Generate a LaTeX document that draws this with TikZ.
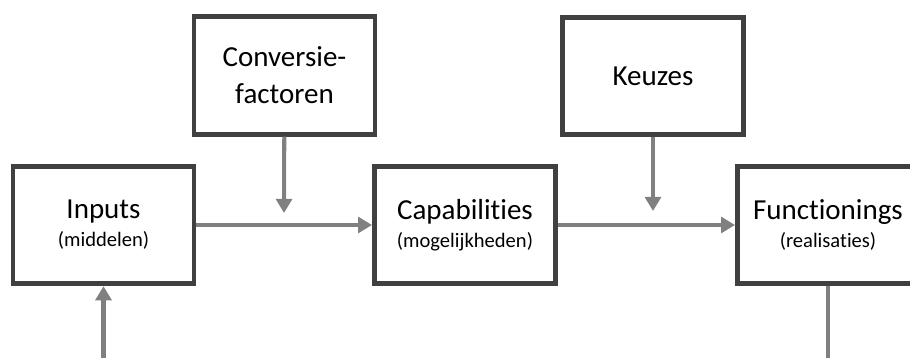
\documentclass[tikz,border=0pt]{standalone}
\usepackage{fontspec}
\setmainfont{Carlito}[Ligatures=NoCommon]
\usetikzlibrary{arrows.meta}
\definecolor{boxgray}{HTML}{404040}
\definecolor{arrowgray}{HTML}{808080}
\newcommand{\bigtxt}{\fontsize{16.5}{21}\selectfont}
\newcommand{\smalltxt}{\fontsize{11.7}{14}\selectfont}

\begin{document}
\begin{tikzpicture}[
  x=0.02cm, y=-0.02cm,
  blok/.style={draw=boxgray, line width=2.8pt, fill=white, minimum width=3.62cm,
    minimum height=2.35cm, align=center, inner sep=0pt, font=\bigtxt},
  pijl/.style={draw=arrowgray, line width=2.3pt, -{Triangle[length=8pt,width=9pt]}},
  lijn/.style={draw=arrowgray, line width=2.3pt}
  ]
	 \useasboundingbox (0,0) rectangle (910,358);
	 \clip (0,0) rectangle (910,358);

	 \node [blok] (inp) at (103.5,225) {Inputs\\[-5pt]{\smalltxt (middelen)}};
	 \node [blok] (cap) at (465,225) {Capabilities\\[-5pt]{\smalltxt (mogelijkheden)}};
	 \node [blok] (fun) at (828,225) {Functionings\\[-5pt]{\smalltxt (realisaties)}};
	 \node [blok] (conv) at (284.5,75.5) {Conversie-\\factoren};
	 \node [blok] (keu) at (653,76) {Keuzes};

	 \coordinate (convend) at (284,213);
	 \coordinate (keuend) at (653,211);
	 \coordinate (inpstart) at (103.5,370);
	 \coordinate (funend) at (828,370);

	 \draw [pijl] (inp) -- (cap);
	 \draw [pijl] (cap) -- (fun);
	 \draw [pijl] (conv) -- (convend);
	 \draw [pijl] (keu) -- (keuend);
	 \draw [pijl] (inpstart) -- (inp);
	 \draw [lijn] (fun) -- (funend);
\end{tikzpicture}
\end{document}
